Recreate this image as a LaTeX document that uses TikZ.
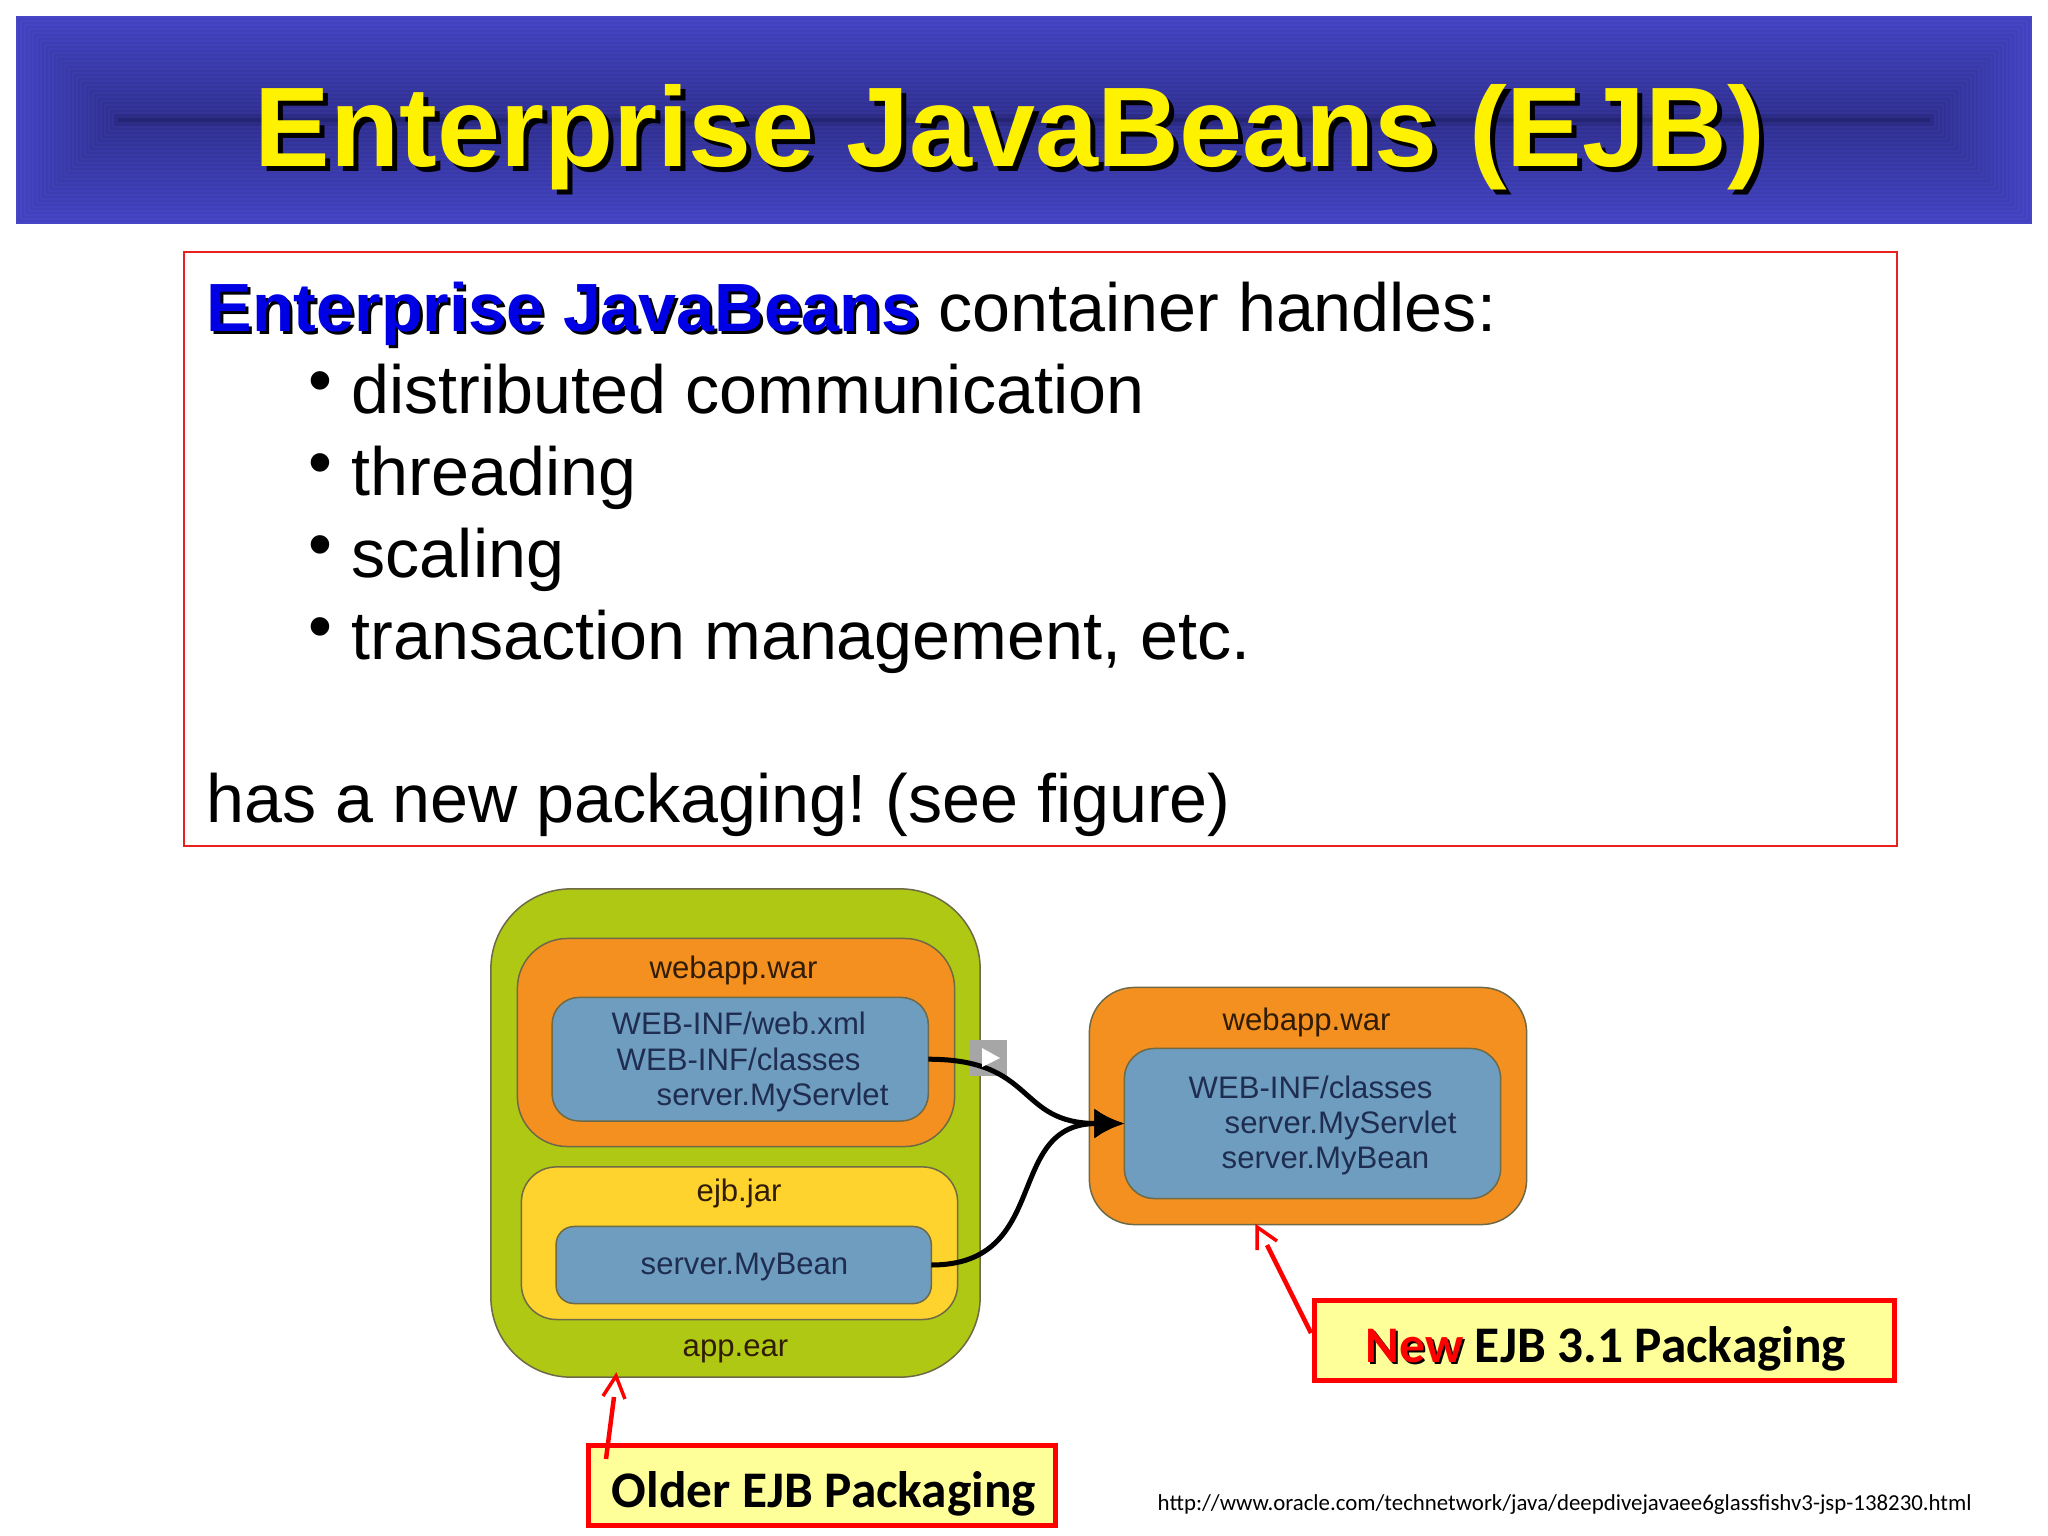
\documentclass[tikz,border=0pt]{standalone}
\usepackage{fontspec}
\setmainfont{Liberation Sans}
\newfontfamily\calibrifont{Carlito}
\usetikzlibrary{arrows.meta}
\definecolor{headedge}{RGB}{70,70,200}
\definecolor{headcore}{RGB}{30,30,100}
\definecolor{earcolor}{RGB}{174,200,20}
\definecolor{warcolor}{RGB}{244,144,32}
\definecolor{jarcolor}{RGB}{255,211,46}
\definecolor{classcolor}{RGB}{110,157,191}
\definecolor{calloutfill}{RGB}{255,255,153}
\definecolor{boxline}{RGB}{110,105,70}
\definecolor{inktext}{RGB}{30,45,80}
\newcommand{\dropped}[4]{\makebox[0pt][l]{\kern#1\raisebox{-#1}{\textcolor{black}{#3}}}\textcolor{#2}{#3}#4}
\tikzset{
	bodyline/.style={anchor=base west, inner sep=0pt, font=\frenchspacing\fontsize{19.4}{24}\selectfont},
	packbox/.style={draw=boxline, line width=0.15mm, inner sep=0pt, outer sep=0pt},
	boxlabel/.style={anchor=base west, inner sep=0pt, font=\fontsize{8.85}{11}\selectfont, text=black!80!warcolor},
	classlabel/.style={boxlabel, text=inktext},
	callout/.style={draw=red, fill=calloutfill, line width=0.5mm, inner sep=0pt, outer sep=0pt},
	calloutlabel/.style={anchor=base west, inner sep=0pt, font=\calibrifont\bfseries\fontsize{14.6}{17}\selectfont},
	redshaft/.style={draw=red, line width=0.45mm},
	flowline/.style={draw=black, line width=0.5mm, -{Latex[length=3mm,width=3mm]}}
}
\begin{document}
\begin{tikzpicture}[x=0.01cm,y=-0.01cm]
			%%%%% START %%%%%
			
			\useasboundingbox (0, 0) rectangle (2048, 1536);
			
			\foreach \i in {0,...,52} {
				\pgfmathsetmacro{\mix}{100-1.0*\i-(\i>48)*(\i-48)*8-8*mod(\i,2)}
				\fill[headedge!\mix!headcore] (16+2*\i, 16+2*\i) rectangle (2032-2*\i, 224-2*\i);
			}
			\node[anchor=base west, inner sep=0pt, font=\bfseries\fontsize{32.2}{36}\selectfont] (title) at (254, 166) {\dropped{0.05cm}{yellow}{Enterprise JavaBeans (EJB)}{}};
			
			\draw[draw={rgb,255:red,232;green,32;blue,32}, line width=0.2mm] (184, 252) rectangle (1897, 846);
			
			\node[bodyline] (intro) at (206, 331) {\dropped{0.03cm}{blue!90!black}{\bfseries Enterprise JavaBeans}{} container handles:};
			\node[bodyline] (first) at (351, 413) {distributed communication};
			\node[bodyline] (second) at (351, 495) {threading};
			\node[bodyline] (third) at (351, 577) {scaling};
			\node[bodyline] (fourth) at (351, 659) {transaction management, etc.};
			\node[bodyline] (closing) at (206, 822) {has a new packaging! (see figure)};
			
			\node[bodyline] (dotfirst) at (308, 403) {\textbullet};
			\node[bodyline] (dotsecond) at (308, 485) {\textbullet};
			\node[bodyline] (dotthird) at (308, 567) {\textbullet};
			\node[bodyline] (dotfourth) at (308, 649) {\textbullet};
			
			\node[packbox, fill=earcolor, rounded corners=0.8cm, minimum width=4.89cm, minimum height=4.88cm] (earbox) at (735.5, 1133) {};
			\node[packbox, fill=warcolor, rounded corners=0.5cm, minimum width=4.37cm, minimum height=2.08cm] (oldwarbox) at (736, 1042.5) {};
			\node[packbox, fill=classcolor, rounded corners=0.27cm, minimum width=3.76cm, minimum height=1.235cm] (servletbox) at (740.2, 1059.2) {};
			\node[packbox, fill=jarcolor, rounded corners=0.35cm, minimum width=4.36cm, minimum height=1.525cm] (jarbox) at (739.5, 1243.2) {};
			\node[packbox, fill=classcolor, rounded corners=0.18cm, minimum width=3.75cm, minimum height=0.77cm] (beanbox) at (743.7, 1265) {};
			
			\node[packbox, fill=warcolor, rounded corners=0.45cm, minimum width=4.37cm, minimum height=2.37cm] (newwarbox) at (1308, 1106) {};
			\node[packbox, fill=classcolor, rounded corners=0.3cm, minimum width=3.76cm, minimum height=1.5cm] (mergedbox) at (1312.5, 1123.5) {};
			
			\node[boxlabel] (oldwar) at (649, 978) {webapp.war};
			\node[classlabel] (oldxml) at (611, 1034) {WEB-INF/web.xml};
			\node[classlabel] (oldclasses) at (616, 1070) {WEB-INF/classes};
			\node[classlabel] (oldservlet) at (656, 1105) {server.MyServlet};
			\node[boxlabel] (jarname) at (696, 1201) {ejb.jar};
			\node[classlabel] (oldbean) at (640, 1274) {server.MyBean};
			\node[boxlabel] (earname) at (682, 1356) {app.ear};
			
			\node[boxlabel] (newwar) at (1222, 1030) {webapp.war};
			\node[classlabel] (newclasses) at (1188, 1098) {WEB-INF/classes};
			\node[classlabel] (newservlet) at (1224, 1133) {server.MyServlet};
			\node[classlabel] (newbean) at (1221, 1168) {server.MyBean};
			
			\fill[black!35] (970, 1040) rectangle (1007, 1076);
			
			\draw[flowline] (servletbox.east) to[out=0, in=180, looseness=1.35] (mergedbox.west);
			\draw[flowline] (beanbox.east) to[out=0, in=180, looseness=1.3] (mergedbox.west);
			
			\fill[white] (982, 1048) -- (1000, 1058) -- (982, 1067) -- cycle;
			
			\node[callout, minimum width=4.67cm, minimum height=0.79cm] (oldercallout) at (822, 1485.5) {};
			\node[callout, minimum width=5.80cm, minimum height=0.80cm] (newcallout) at (1604.5, 1340.5) {};
			\node[calloutlabel] (olderlabel) at (611, 1507) {Older EJB Packaging};
			\node[calloutlabel] (newlabel) at (1365, 1362) {\dropped{0.02cm}{red}{New}{} EJB 3.1 Packaging};
			\node[anchor=base west, inner sep=0pt, font=\calibrifont\fontsize{6.5}{8}\selectfont] (source) at (1157, 1510) {http://www.oracle.com/technetwork/java/deepdivejavaee6glassfishv3-jsp-138230.html};
			
			\coordinate (olderfoot) at (606, 1459);
			\coordinate (olderneck) at (614, 1397);
			\coordinate (newfoot) at (1311, 1333);
			\coordinate (newneck) at (1267, 1245);
			\draw[redshaft] (olderfoot) -- (olderneck);
			\draw[redshaft, line width=0.35mm] (603, 1396) -- (616, 1376) -- (625, 1399);
			\draw[redshaft] (newfoot) -- (newneck);
			\draw[redshaft, line width=0.35mm] (1257, 1250) -- (1257, 1227) -- (1277, 1241);
			
			%%%%% END %%%%%
		\end{tikzpicture}
\end{document}
